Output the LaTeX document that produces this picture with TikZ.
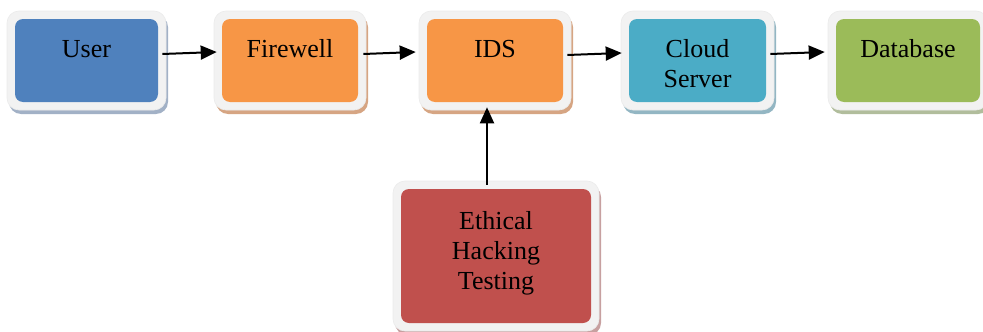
\documentclass[tikz,border=0pt]{standalone}
\usepackage{fontspec}
\setmainfont{Liberation Serif}
\usetikzlibrary{arrows.meta}
\definecolor{cblue}{HTML}{4F81BD}
\definecolor{corange}{HTML}{F79646}
\definecolor{cteal}{HTML}{4BACC6}
\definecolor{cgreen}{HTML}{9BBB59}
\definecolor{cred}{HTML}{C0504D}
\definecolor{sblue}{HTML}{A2B1C6}
\definecolor{sorange}{HTML}{D6A583}
\definecolor{steal}{HTML}{93B6C3}
\definecolor{sgreen}{HTML}{B1BD9C}
\definecolor{sred}{HTML}{C7A0A0}
\definecolor{framegray}{HTML}{F2F2F2}
\tikzset{
  shadowbox/.style={rectangle, rounded corners=12pt, draw=none, inner sep=0pt},
  framebox/.style={rectangle, rounded corners=12pt, fill=framegray, draw=black!8, line width=0.6pt, inner sep=0pt},
  innerbox/.style={rectangle, rounded corners=8pt, draw=none, inner sep=0pt},
  lbl/.style={font=\fontsize{26}{30}\selectfont, inner sep=0pt, align=center, anchor=base},
  arr/.style={line width=2pt, -{Triangle[length=16pt,width=14pt]}}
}
\newcommand\diagbox[7]{%
  \node[shadowbox, fill=#7, minimum width=#4+16, minimum height=#5+16] (#1s) at (#2+2,#3+4) {};
  \node[framebox, minimum width=#4+16, minimum height=#5+16] (#1f) at (#2,#3) {};
  \node[innerbox, fill=#6, minimum width=#4, minimum height=#5] (#1) at (#2,#3) {};
}
\begin{document}
\begin{tikzpicture}[x=1pt,y=-1pt]
\useasboundingbox (0,0) rectangle (983,332);
\diagbox{user}{86.5}{60.5}{143}{83}{cblue}{sblue}
\diagbox{fw}{290}{60.5}{136}{83}{corange}{sorange}
\diagbox{ids}{495}{60.5}{136}{83}{corange}{sorange}
\diagbox{cloud}{697.5}{60.5}{137}{83}{cteal}{steal}
\diagbox{db}{908}{60.5}{144}{83}{cgreen}{sgreen}
\diagbox{eth}{496}{256}{190}{134}{cred}{sred}
\node[lbl] (usert) at (86.5,57) {User};
\node[lbl] (fwt) at (290,57) {Firewell};
\node[lbl] (idst) at (495,57) {IDS};
\node[lbl] (cloudt) at (697.5,87) {Cloud\\Server};
\node[lbl] (dbt) at (908,57) {Database};
\node[lbl] (etht) at (496,289) {Ethical\\Hacking\\Testing};
\draw[arr] ([xshift=-4pt,yshift=6.5pt]userf.east) -- ([xshift=3pt,yshift=8.5pt]fwf.west);
\draw[arr] ([xshift=-3pt,yshift=6.5pt]fwf.east) -- ([xshift=-3pt,yshift=8.5pt]idsf.west);
\draw[arr] ([xshift=-4pt,yshift=5.5pt]idsf.east) -- ([xshift=1pt,yshift=7.5pt]cloudf.west);
\draw[arr] ([xshift=-4pt,yshift=6.5pt]cloudf.east) -- ([xshift=-3pt,yshift=8.5pt]dbf.west);
\draw[arr] ([xshift=-9pt,yshift=-4pt]ethf.north) -- ([xshift=-8pt,yshift=3pt]idsf.south);
\end{tikzpicture}
\end{document}
